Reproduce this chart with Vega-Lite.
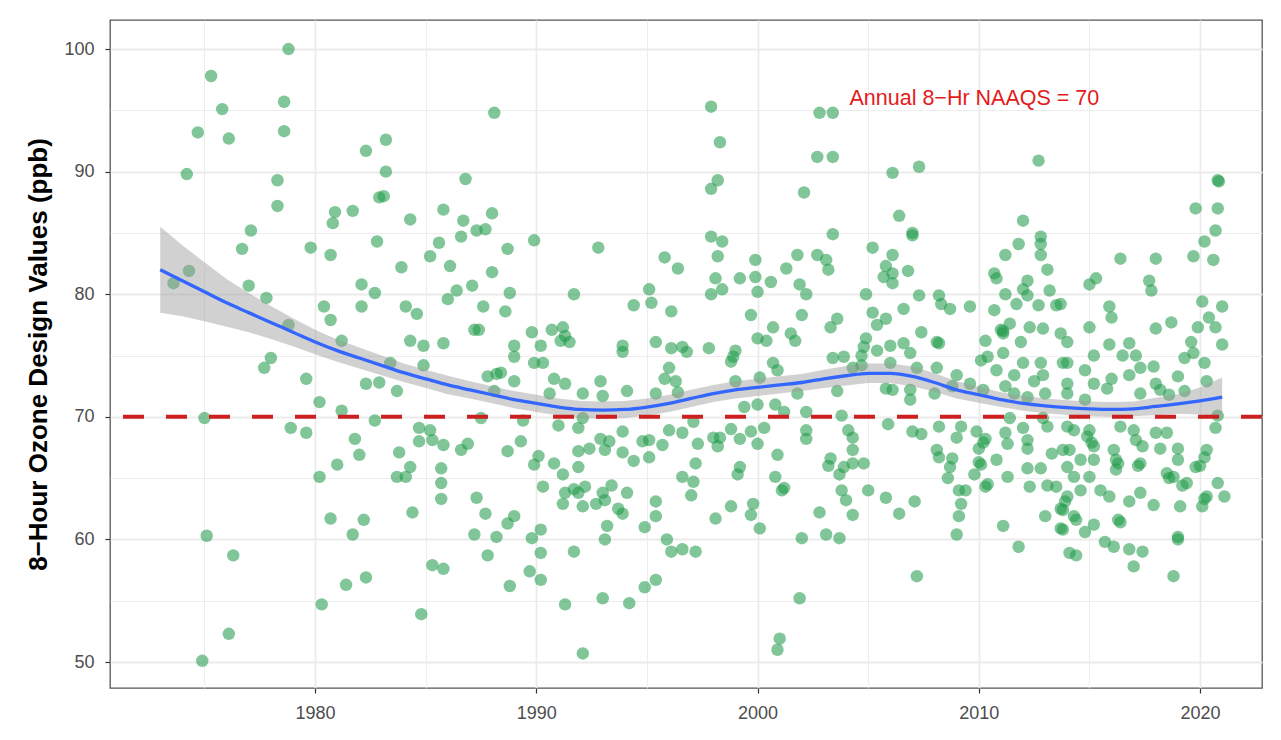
{
  "$schema": "https://vega.github.io/schema/vega-lite/v6.json",
  "autosize": {"type": "none"},
  "width": 1152,
  "height": 668,
  "padding": {"left": 110, "top": 20, "right": 19, "bottom": 52},
  "background": "white",
  "config": {
    "font": "Liberation Sans",
    "view": {"stroke": "#555555", "strokeWidth": 1.3}
  },
  "datasets": {
    "pts": [
      {"year":1978.8,"ppb":100.0},{"year":1975.3,"ppb":97.8},{"year":1975.8,"ppb":95.1},{"year":1974.7,"ppb":93.2},{"year":1976.1,"ppb":92.7},{"year":1978.6,"ppb":95.7},{"year":1978.6,"ppb":93.3},{"year":1974.2,"ppb":89.8},{"year":1978.3,"ppb":89.3},{"year":1978.3,"ppb":87.2},{"year":1977.1,"ppb":85.2},{"year":1976.7,"ppb":83.7},{"year":1974.3,"ppb":81.9},{"year":1973.6,"ppb":80.9},{"year":1977.0,"ppb":80.7},{"year":1977.8,"ppb":79.7},{"year":1978.8,"ppb":77.5},{"year":1979.8,"ppb":83.8},
      {"year":1978.0,"ppb":74.8},{"year":1977.7,"ppb":74.0},{"year":1979.6,"ppb":73.1},{"year":1975.0,"ppb":69.9},{"year":1978.9,"ppb":69.1},{"year":1979.6,"ppb":68.7},{"year":1975.1,"ppb":60.3},{"year":1976.3,"ppb":58.7},{"year":1976.1,"ppb":52.3},{"year":1974.9,"ppb":50.1},
      {"year":1988.1,"ppb":94.8},{"year":1983.2,"ppb":92.6},{"year":1982.3,"ppb":91.7},{"year":1983.2,"ppb":90.0},{"year":1986.8,"ppb":89.4},{"year":1982.9,"ppb":87.9},{"year":1983.1,"ppb":88.0},{"year":1980.9,"ppb":86.7},{"year":1981.7,"ppb":86.8},{"year":1980.8,"ppb":85.8},{"year":1984.3,"ppb":86.1},{"year":1985.8,"ppb":86.9},{"year":1986.7,"ppb":86.0},{"year":1987.3,"ppb":85.2},{"year":1987.7,"ppb":85.3},{"year":1988.0,"ppb":86.6},{"year":1980.7,"ppb":83.2},{"year":1982.8,"ppb":84.3},{"year":1985.6,"ppb":84.2},{"year":1986.6,"ppb":84.7},{"year":1985.2,"ppb":83.1},{"year":1986.1,"ppb":82.3},{"year":1983.9,"ppb":82.2},{"year":1988.0,"ppb":81.8},{"year":1982.1,"ppb":80.8},{"year":1982.7,"ppb":80.1},{"year":1980.4,"ppb":79.0},{"year":1980.7,"ppb":77.9},{"year":1982.1,"ppb":79.0},{"year":1984.1,"ppb":79.0},{"year":1984.6,"ppb":78.4},{"year":1986.0,"ppb":79.6},{"year":1986.4,"ppb":80.3},{"year":1987.1,"ppb":80.7},{"year":1987.6,"ppb":79.0},{"year":1987.2,"ppb":77.1},{"year":1987.4,"ppb":77.1},{"year":1981.2,"ppb":76.2},{"year":1984.3,"ppb":76.2},{"year":1984.9,"ppb":75.8},{"year":1985.8,"ppb":76.0},
      {"year":1983.4,"ppb":74.4},{"year":1984.9,"ppb":74.2},{"year":1982.3,"ppb":72.7},{"year":1982.9,"ppb":72.8},{"year":1983.7,"ppb":72.1},{"year":1980.2,"ppb":71.2},{"year":1981.2,"ppb":70.5},{"year":1982.7,"ppb":69.7},{"year":1987.8,"ppb":73.3},{"year":1988.2,"ppb":73.5},{"year":1988.1,"ppb":72.1},{"year":1987.5,"ppb":69.9},{"year":1981.8,"ppb":68.2},{"year":1982.0,"ppb":66.9},{"year":1981.0,"ppb":66.1},{"year":1980.2,"ppb":65.1},{"year":1983.8,"ppb":67.1},{"year":1984.3,"ppb":65.9},{"year":1983.7,"ppb":65.1},{"year":1984.1,"ppb":65.1},{"year":1984.7,"ppb":69.1},{"year":1985.2,"ppb":68.9},{"year":1984.7,"ppb":68.0},{"year":1985.3,"ppb":68.1},{"year":1985.8,"ppb":67.7},{"year":1986.6,"ppb":67.3},{"year":1986.9,"ppb":67.8},{"year":1985.7,"ppb":65.8},{"year":1985.7,"ppb":64.6},{"year":1985.7,"ppb":63.3},{"year":1980.7,"ppb":61.7},{"year":1982.2,"ppb":61.6},{"year":1981.7,"ppb":60.4},{"year":1984.4,"ppb":62.2},{"year":1987.3,"ppb":63.4},{"year":1987.7,"ppb":62.1},{"year":1987.2,"ppb":60.4},{"year":1988.2,"ppb":60.2},{"year":1987.8,"ppb":58.7},{"year":1985.3,"ppb":57.9},{"year":1985.8,"ppb":57.6},{"year":1981.4,"ppb":56.3},{"year":1982.3,"ppb":56.9},{"year":1980.3,"ppb":54.7},{"year":1984.8,"ppb":53.9},
      {"year":1989.9,"ppb":84.4},{"year":1992.8,"ppb":83.8},{"year":1988.7,"ppb":83.7},{"year":1988.8,"ppb":80.1},{"year":1988.6,"ppb":78.6},{"year":1991.7,"ppb":80.0},{"year":1995.8,"ppb":83.0},{"year":1996.4,"ppb":82.1},{"year":1995.1,"ppb":80.4},{"year":1995.2,"ppb":79.3},{"year":1994.4,"ppb":79.1},{"year":1996.1,"ppb":78.6},{"year":1989.8,"ppb":76.9},{"year":1990.7,"ppb":77.1},{"year":1991.2,"ppb":77.3},{"year":1991.3,"ppb":76.6},{"year":1991.1,"ppb":76.2},{"year":1991.5,"ppb":76.1},{"year":1989.0,"ppb":75.8},{"year":1990.2,"ppb":75.8},{"year":1993.9,"ppb":75.8},{"year":1995.4,"ppb":76.1},{"year":1996.1,"ppb":75.6},{"year":1996.6,"ppb":75.7},
      {"year":1989.0,"ppb":74.9},{"year":1989.9,"ppb":74.4},{"year":1990.3,"ppb":74.4},{"year":1988.4,"ppb":73.6},{"year":1989.0,"ppb":72.9},{"year":1990.8,"ppb":73.1},{"year":1991.3,"ppb":72.7},{"year":1990.6,"ppb":71.9},{"year":1992.1,"ppb":71.9},{"year":1992.9,"ppb":72.9},{"year":1993.0,"ppb":71.7},{"year":1994.1,"ppb":72.1},{"year":1995.4,"ppb":71.9},{"year":1996.0,"ppb":74.0},{"year":1995.8,"ppb":73.1},{"year":1996.3,"ppb":72.9},{"year":1996.4,"ppb":72.0},{"year":1993.9,"ppb":75.3},{"year":1989.4,"ppb":69.7},{"year":1991.0,"ppb":69.3},{"year":1991.9,"ppb":69.1},{"year":1992.1,"ppb":69.9},{"year":1989.3,"ppb":68.0},{"year":1988.7,"ppb":67.2},{"year":1990.1,"ppb":66.8},{"year":1989.9,"ppb":66.1},{"year":1992.9,"ppb":68.2},{"year":1993.3,"ppb":68.0},{"year":1993.9,"ppb":68.8},{"year":1994.8,"ppb":68.0},{"year":1995.1,"ppb":68.1},{"year":1995.7,"ppb":67.7},{"year":1996.0,"ppb":68.9},{"year":1996.6,"ppb":68.7},{"year":1991.9,"ppb":67.2},{"year":1992.4,"ppb":67.4},{"year":1993.1,"ppb":67.3},{"year":1993.9,"ppb":67.1},{"year":1994.4,"ppb":66.4},{"year":1995.1,"ppb":66.7},{"year":1990.8,"ppb":66.2},{"year":1991.2,"ppb":65.3},{"year":1991.9,"ppb":65.9},{"year":1990.3,"ppb":64.3},{"year":1991.3,"ppb":63.8},{"year":1991.7,"ppb":64.1},{"year":1992.2,"ppb":64.3},{"year":1991.9,"ppb":63.8},{"year":1991.2,"ppb":62.9},{"year":1992.1,"ppb":62.7},{"year":1992.7,"ppb":62.9},{"year":1993.0,"ppb":63.8},{"year":1993.4,"ppb":64.4},{"year":1993.1,"ppb":63.2},{"year":1994.1,"ppb":63.8},{"year":1993.7,"ppb":62.5},{"year":1993.9,"ppb":62.1},{"year":1993.2,"ppb":61.1},{"year":1993.1,"ppb":60.0},{"year":1995.4,"ppb":63.1},{"year":1995.4,"ppb":61.9},{"year":1994.9,"ppb":61.0},{"year":1989.0,"ppb":61.9},{"year":1988.7,"ppb":61.3},{"year":1990.2,"ppb":60.8},{"year":1989.8,"ppb":60.1},{"year":1990.2,"ppb":58.9},{"year":1991.7,"ppb":59.0},{"year":1995.9,"ppb":60.0},{"year":1996.1,"ppb":59.0},{"year":1996.6,"ppb":59.2},{"year":1989.7,"ppb":57.4},{"year":1990.2,"ppb":56.7},{"year":1988.8,"ppb":56.2},{"year":1994.9,"ppb":56.1},{"year":1995.4,"ppb":56.7},{"year":1991.3,"ppb":54.7},{"year":1993.0,"ppb":55.2},{"year":1994.2,"ppb":54.8},{"year":1992.1,"ppb":50.7},
      {"year":1997.9,"ppb":95.3},{"year":1998.3,"ppb":92.4},{"year":2002.8,"ppb":94.8},{"year":2003.4,"ppb":94.8},{"year":2002.7,"ppb":91.2},{"year":2003.4,"ppb":91.2},{"year":1998.2,"ppb":89.3},{"year":1997.9,"ppb":88.6},{"year":2002.1,"ppb":88.3},{"year":1997.9,"ppb":84.7},{"year":1998.4,"ppb":84.3},{"year":1998.2,"ppb":83.1},{"year":2003.4,"ppb":84.9},{"year":1999.9,"ppb":82.8},{"year":2001.3,"ppb":82.1},{"year":2001.8,"ppb":83.2},{"year":2002.7,"ppb":83.2},{"year":2003.1,"ppb":82.8},{"year":2003.2,"ppb":82.0},{"year":2005.2,"ppb":83.8},{"year":1998.1,"ppb":81.3},{"year":1997.9,"ppb":80.0},{"year":1998.4,"ppb":80.4},{"year":1999.2,"ppb":81.3},{"year":1999.9,"ppb":81.4},{"year":2000.0,"ppb":80.2},{"year":2000.6,"ppb":81.0},{"year":2001.9,"ppb":80.8},{"year":2002.2,"ppb":80.0},{"year":2004.9,"ppb":80.0},{"year":1999.7,"ppb":78.3},{"year":2002.0,"ppb":78.3},{"year":2003.6,"ppb":78.0},{"year":2003.3,"ppb":77.3},{"year":2000.0,"ppb":76.4},{"year":2000.4,"ppb":76.2},{"year":2000.7,"ppb":77.3},{"year":2001.5,"ppb":76.8},{"year":2001.7,"ppb":76.2},{"year":1997.8,"ppb":75.6},{"year":1999.0,"ppb":75.4},{"year":2005.2,"ppb":78.5},{"year":2005.4,"ppb":77.5},{"year":2004.9,"ppb":76.4},{"year":2004.8,"ppb":75.7},
      {"year":1996.8,"ppb":75.3},{"year":1998.9,"ppb":74.9},{"year":1998.8,"ppb":74.5},{"year":2000.7,"ppb":74.4},{"year":2000.9,"ppb":73.8},{"year":1999.0,"ppb":72.9},{"year":2000.1,"ppb":73.2},{"year":2001.8,"ppb":71.9},{"year":2003.6,"ppb":72.1},{"year":2003.4,"ppb":74.8},{"year":2003.9,"ppb":74.9},{"year":2004.7,"ppb":75.0},{"year":2004.7,"ppb":74.2},{"year":2004.3,"ppb":74.0},{"year":1997.1,"ppb":69.6},{"year":1998.8,"ppb":69.0},{"year":1998.3,"ppb":68.3},{"year":1998.0,"ppb":68.3},{"year":1998.2,"ppb":67.6},{"year":1999.2,"ppb":68.2},{"year":1999.7,"ppb":68.8},{"year":2000.0,"ppb":67.8},{"year":2000.3,"ppb":69.1},{"year":1999.4,"ppb":70.8},{"year":2000.0,"ppb":71.0},{"year":2000.8,"ppb":71.0},{"year":2001.2,"ppb":70.4},{"year":2002.2,"ppb":70.4},{"year":2003.8,"ppb":70.1},{"year":1997.3,"ppb":67.8},{"year":1997.2,"ppb":66.2},{"year":2002.2,"ppb":68.9},{"year":2002.2,"ppb":68.2},{"year":2004.1,"ppb":68.9},{"year":2004.3,"ppb":68.3},{"year":2000.9,"ppb":66.9},{"year":1999.2,"ppb":65.9},{"year":1999.1,"ppb":65.3},{"year":1996.6,"ppb":65.1},{"year":1997.1,"ppb":64.7},{"year":1997.0,"ppb":63.6},{"year":2000.8,"ppb":65.1},{"year":2001.2,"ppb":64.2},{"year":2001.1,"ppb":64.0},{"year":2003.3,"ppb":66.6},{"year":2003.2,"ppb":66.0},{"year":2003.9,"ppb":65.9},{"year":2004.3,"ppb":66.2},{"year":2004.8,"ppb":66.2},{"year":2004.3,"ppb":67.3},{"year":2003.7,"ppb":65.3},{"year":2003.8,"ppb":64.0},{"year":2004.0,"ppb":63.2},{"year":2005.0,"ppb":64.0},{"year":1998.8,"ppb":62.7},{"year":1998.1,"ppb":61.7},{"year":1999.8,"ppb":62.9},{"year":1999.7,"ppb":62.0},{"year":2000.1,"ppb":60.9},{"year":2002.8,"ppb":62.2},{"year":2004.3,"ppb":62.0},{"year":2003.1,"ppb":60.4},{"year":2003.7,"ppb":60.1},{"year":2002.0,"ppb":60.1},{"year":1997.2,"ppb":59.0},{"year":2001.9,"ppb":55.2},{"year":2001.0,"ppb":51.9},{"year":2000.9,"ppb":51.0},
      {"year":2012.7,"ppb":90.9},{"year":2006.1,"ppb":89.9},{"year":2007.3,"ppb":90.4},{"year":2006.4,"ppb":86.4},{"year":2007.0,"ppb":85.0},{"year":2007.0,"ppb":84.8},{"year":2012.0,"ppb":86.0},{"year":2011.8,"ppb":84.1},{"year":2012.8,"ppb":84.7},{"year":2012.8,"ppb":84.1},{"year":2012.8,"ppb":83.2},{"year":2011.2,"ppb":83.2},{"year":2006.1,"ppb":83.2},{"year":2005.8,"ppb":82.3},{"year":2006.8,"ppb":81.9},{"year":2006.1,"ppb":81.7},{"year":2006.1,"ppb":80.9},{"year":2005.7,"ppb":81.4},{"year":2007.3,"ppb":79.9},{"year":2008.2,"ppb":79.9},{"year":2008.7,"ppb":78.8},{"year":2008.3,"ppb":79.2},{"year":2009.6,"ppb":79.0},{"year":2006.6,"ppb":78.8},{"year":2005.8,"ppb":78.0},{"year":2007.4,"ppb":76.9},{"year":2008.1,"ppb":76.1},{"year":2008.2,"ppb":76.0},{"year":2006.6,"ppb":76.0},{"year":2006.0,"ppb":75.8},{"year":2010.7,"ppb":81.7},{"year":2010.8,"ppb":81.3},{"year":2011.2,"ppb":80.0},{"year":2012.2,"ppb":81.1},{"year":2012.0,"ppb":80.4},{"year":2012.2,"ppb":79.9},{"year":2011.7,"ppb":79.2},{"year":2012.7,"ppb":79.1},{"year":2013.2,"ppb":80.3},{"year":2013.1,"ppb":82.0},{"year":2013.5,"ppb":79.1},{"year":2010.7,"ppb":78.7},{"year":2010.3,"ppb":76.2},{"year":2011.0,"ppb":77.1},{"year":2011.1,"ppb":76.8},{"year":2011.1,"ppb":77.0},{"year":2011.4,"ppb":77.6},{"year":2012.3,"ppb":77.3},{"year":2012.9,"ppb":77.2},{"year":2011.9,"ppb":76.1},{"year":2013.7,"ppb":76.8},{"year":2014.0,"ppb":76.1},
      {"year":2005.4,"ppb":75.4},{"year":2006.0,"ppb":74.4},{"year":2006.9,"ppb":75.2},{"year":2007.2,"ppb":74.0},{"year":2008.1,"ppb":74.0},{"year":2009.0,"ppb":73.4},{"year":2010.1,"ppb":74.6},{"year":2010.4,"ppb":74.9},{"year":2010.8,"ppb":73.8},{"year":2011.1,"ppb":75.2},{"year":2011.6,"ppb":73.4},{"year":2012.0,"ppb":74.4},{"year":2012.8,"ppb":74.4},{"year":2012.9,"ppb":73.4},{"year":2012.5,"ppb":72.9},{"year":2013.0,"ppb":71.9},{"year":2013.8,"ppb":74.4},{"year":2014.0,"ppb":72.7},{"year":2005.8,"ppb":72.3},{"year":2006.1,"ppb":72.2},{"year":2006.9,"ppb":72.2},{"year":2006.9,"ppb":71.4},{"year":2008.0,"ppb":71.9},{"year":2008.8,"ppb":72.5},{"year":2009.6,"ppb":72.7},{"year":2010.2,"ppb":72.2},{"year":2011.2,"ppb":72.5},{"year":2011.6,"ppb":71.9},{"year":2012.2,"ppb":71.6},
      {"year":2005.9,"ppb":69.4},{"year":2007.0,"ppb":68.8},{"year":2007.4,"ppb":68.6},{"year":2008.2,"ppb":69.2},{"year":2009.2,"ppb":69.2},{"year":2009.0,"ppb":68.3},{"year":2008.1,"ppb":67.3},{"year":2008.2,"ppb":66.7},{"year":2008.8,"ppb":66.6},{"year":2008.7,"ppb":65.9},{"year":2009.9,"ppb":68.8},{"year":2010.3,"ppb":68.2},{"year":2010.2,"ppb":67.9},{"year":2010.0,"ppb":67.4},{"year":2010.1,"ppb":66.1},{"year":2010.0,"ppb":66.3},{"year":2010.8,"ppb":66.5},{"year":2011.3,"ppb":67.8},{"year":2011.2,"ppb":68.7},{"year":2012.0,"ppb":69.1},{"year":2012.2,"ppb":68.1},{"year":2012.2,"ppb":67.4},{"year":2013.1,"ppb":69.2},{"year":2013.3,"ppb":67.0},{"year":2013.8,"ppb":67.3},{"year":2011.4,"ppb":69.9},{"year":2012.9,"ppb":69.9},{"year":2005.8,"ppb":63.4},{"year":2007.1,"ppb":63.1},{"year":2006.4,"ppb":62.1},
      {"year":2008.6,"ppb":65.0},{"year":2009.1,"ppb":64.0},{"year":2009.4,"ppb":64.0},{"year":2009.2,"ppb":62.9},{"year":2009.1,"ppb":61.9},{"year":2009.0,"ppb":60.4},{"year":2009.8,"ppb":65.3},{"year":2010.3,"ppb":64.3},{"year":2010.4,"ppb":64.5},{"year":2011.3,"ppb":65.1},{"year":2011.1,"ppb":61.1},{"year":2011.8,"ppb":59.4},{"year":2012.2,"ppb":65.8},{"year":2012.8,"ppb":65.8},{"year":2012.3,"ppb":64.3},{"year":2013.1,"ppb":64.4},{"year":2013.5,"ppb":64.3},{"year":2013.0,"ppb":61.9},{"year":2013.7,"ppb":62.5},{"year":2013.7,"ppb":60.9},{"year":2013.9,"ppb":63.1},{"year":2014.1,"ppb":58.9},{"year":2007.2,"ppb":57.0},
      {"year":2020.8,"ppb":89.3},{"year":2020.85,"ppb":89.2},{"year":2019.8,"ppb":87.0},{"year":2020.8,"ppb":87.0},{"year":2020.7,"ppb":85.2},{"year":2020.2,"ppb":84.3},{"year":2016.4,"ppb":82.9},{"year":2018.0,"ppb":82.9},{"year":2019.7,"ppb":83.1},{"year":2020.6,"ppb":82.8},{"year":2015.0,"ppb":80.8},{"year":2015.3,"ppb":81.3},{"year":2017.7,"ppb":81.1},{"year":2017.8,"ppb":80.3},{"year":2013.7,"ppb":79.2},{"year":2015.9,"ppb":79.0},{"year":2016.0,"ppb":78.1},{"year":2020.1,"ppb":79.4},{"year":2021.0,"ppb":79.0},{"year":2020.4,"ppb":78.1},{"year":2019.9,"ppb":77.3},{"year":2020.7,"ppb":77.3},{"year":2018.0,"ppb":77.2},{"year":2018.7,"ppb":77.7},{"year":2015.0,"ppb":77.3},{"year":2015.9,"ppb":75.9},{"year":2016.8,"ppb":76.0},{"year":2019.6,"ppb":76.1},{"year":2021.0,"ppb":75.9},
      {"year":2015.2,"ppb":75.0},{"year":2016.5,"ppb":75.0},{"year":2017.1,"ppb":75.0},{"year":2014.0,"ppb":74.4},{"year":2014.8,"ppb":73.8},{"year":2015.2,"ppb":72.7},{"year":2015.8,"ppb":72.3},{"year":2016.0,"ppb":73.1},{"year":2016.8,"ppb":73.4},{"year":2017.3,"ppb":74.0},{"year":2017.9,"ppb":74.1},{"year":2019.0,"ppb":73.3},{"year":2019.3,"ppb":74.8},{"year":2019.7,"ppb":75.2},{"year":2020.2,"ppb":74.4},{"year":2020.3,"ppb":72.9},{"year":2014.0,"ppb":71.9},{"year":2014.8,"ppb":71.4},{"year":2017.3,"ppb":71.9},{"year":2018.0,"ppb":72.7},{"year":2018.2,"ppb":72.2},{"year":2018.6,"ppb":71.8},{"year":2019.3,"ppb":72.1},
      {"year":2014.0,"ppb":69.2},{"year":2015.0,"ppb":68.9},{"year":2014.9,"ppb":68.4},{"year":2015.2,"ppb":67.6},{"year":2015.1,"ppb":67.9},{"year":2014.1,"ppb":67.3},{"year":2014.3,"ppb":68.9},{"year":2014.6,"ppb":66.5},{"year":2014.0,"ppb":65.9},{"year":2015.2,"ppb":66.5},{"year":2014.3,"ppb":65.1},{"year":2015.0,"ppb":65.1},{"year":2016.1,"ppb":67.3},{"year":2016.2,"ppb":66.5},{"year":2016.3,"ppb":66.2},{"year":2016.2,"ppb":65.7},{"year":2016.4,"ppb":69.2},{"year":2017.0,"ppb":68.9},{"year":2017.1,"ppb":68.1},{"year":2017.4,"ppb":67.6},{"year":2017.3,"ppb":66.2},{"year":2017.2,"ppb":66.0},{"year":2018.0,"ppb":68.7},{"year":2018.2,"ppb":67.4},{"year":2018.5,"ppb":68.7},{"year":2019.0,"ppb":67.4},{"year":2019.0,"ppb":66.5},{"year":2018.5,"ppb":65.4},{"year":2018.8,"ppb":65.1},{"year":2018.6,"ppb":65.0},{"year":2019.4,"ppb":64.6},{"year":2019.2,"ppb":64.4},{"year":2019.8,"ppb":65.9},{"year":2020.0,"ppb":66.0},{"year":2020.2,"ppb":66.7},{"year":2020.3,"ppb":67.3},{"year":2020.8,"ppb":64.6},{"year":2020.3,"ppb":63.5},{"year":2020.2,"ppb":63.3},{"year":2020.1,"ppb":62.7},{"year":2021.1,"ppb":63.5},{"year":2019.1,"ppb":62.7},{"year":2017.9,"ppb":62.8},{"year":2017.3,"ppb":63.8},{"year":2016.8,"ppb":63.1},{"year":2015.9,"ppb":63.5},{"year":2015.5,"ppb":64.0},{"year":2014.6,"ppb":64.0},{"year":2014.0,"ppb":63.5},{"year":2013.8,"ppb":62.4},{"year":2020.8,"ppb":70.1},{"year":2020.7,"ppb":69.1},
      {"year":2014.3,"ppb":61.9},{"year":2014.4,"ppb":61.6},{"year":2013.8,"ppb":60.8},{"year":2015.2,"ppb":61.2},{"year":2014.8,"ppb":60.6},{"year":2016.3,"ppb":61.6},{"year":2016.4,"ppb":61.4},{"year":2015.7,"ppb":59.8},{"year":2016.1,"ppb":59.4},{"year":2016.8,"ppb":59.2},{"year":2017.4,"ppb":59.0},{"year":2017.0,"ppb":57.8},{"year":2019.0,"ppb":60.0},{"year":2019.0,"ppb":60.2},{"year":2018.8,"ppb":57.0},{"year":2014.4,"ppb":58.7}
    ],
    "fit": [
      {"year":1973,"fit":82.0,"lo":78.5,"hi":85.5},{"year":1974,"fit":81.1,"lo":78.2,"hi":84.0},{"year":1975,"fit":80.2,"lo":77.8,"hi":82.6},{"year":1976,"fit":79.3,"lo":77.35,"hi":81.25},{"year":1977,"fit":78.5,"lo":76.9,"hi":80.1},{"year":1978,"fit":77.7,"lo":76.35,"hi":79.05},{"year":1979,"fit":76.9,"lo":75.75,"hi":78.05},{"year":1980,"fit":76.1,"lo":75.1,"hi":77.1},{"year":1981,"fit":75.4,"lo":74.5,"hi":76.3},{"year":1982,"fit":74.8,"lo":73.95,"hi":75.65},{"year":1983,"fit":74.2,"lo":73.4,"hi":75.0},{"year":1984,"fit":73.6,"lo":72.85,"hi":74.35},{"year":1985,"fit":73.1,"lo":72.35,"hi":73.85},{"year":1986,"fit":72.6,"lo":71.85,"hi":73.35},{"year":1987,"fit":72.2,"lo":71.5,"hi":72.9},{"year":1988,"fit":71.8,"lo":71.1,"hi":72.5},{"year":1989,"fit":71.4,"lo":70.7,"hi":72.1},{"year":1990,"fit":71.1,"lo":70.4,"hi":71.8},{"year":1991,"fit":70.8,"lo":70.1,"hi":71.5},{"year":1992,"fit":70.6,"lo":69.9,"hi":71.3},{"year":1993,"fit":70.55,"lo":69.85,"hi":71.25},{"year":1994,"fit":70.6,"lo":69.9,"hi":71.3},{"year":1995,"fit":70.8,"lo":70.1,"hi":71.5},{"year":1996,"fit":71.1,"lo":70.4,"hi":71.8},{"year":1997,"fit":71.5,"lo":70.8,"hi":72.2},{"year":1998,"fit":71.9,"lo":71.2,"hi":72.6},{"year":1999,"fit":72.2,"lo":71.5,"hi":72.9},{"year":2000,"fit":72.4,"lo":71.7,"hi":73.1},{"year":2001,"fit":72.6,"lo":71.9,"hi":73.3},{"year":2002,"fit":72.8,"lo":72.1,"hi":73.5},{"year":2003,"fit":73.1,"lo":72.35,"hi":73.85},{"year":2004,"fit":73.35,"lo":72.55,"hi":74.15},{"year":2005,"fit":73.55,"lo":72.75,"hi":74.35},{"year":2006,"fit":73.55,"lo":72.75,"hi":74.35},{"year":2007,"fit":73.3,"lo":72.5,"hi":74.1},{"year":2008,"fit":72.8,"lo":72.05,"hi":73.55},{"year":2009,"fit":72.2,"lo":71.5,"hi":72.9},{"year":2010,"fit":71.8,"lo":71.15,"hi":72.45},{"year":2011,"fit":71.4,"lo":70.8,"hi":72.0},{"year":2012,"fit":71.1,"lo":70.5,"hi":71.7},{"year":2013,"fit":70.9,"lo":70.3,"hi":71.5},{"year":2014,"fit":70.75,"lo":70.15,"hi":71.35},{"year":2015,"fit":70.65,"lo":70.05,"hi":71.25},{"year":2016,"fit":70.6,"lo":70.0,"hi":71.2},{"year":2017,"fit":70.65,"lo":70.05,"hi":71.25},{"year":2018,"fit":70.85,"lo":70.15,"hi":71.55},{"year":2019,"fit":71.05,"lo":70.25,"hi":71.85},{"year":2020,"fit":71.3,"lo":70.2,"hi":72.4},{"year":2021,"fit":71.6,"lo":70.0,"hi":73.2}
    ]
  },
  "layer": [
    {
      "data": {"name": "pts"},
      "mark": {"type": "circle", "size": 155, "color": "#1f9a48", "opacity": 0.56, "strokeWidth": 0},
      "encoding": {
        "x": {
          "field": "year", "type": "quantitative", "title": null,
          "scale": {"domain": [1970.73, 2022.8], "nice": false, "zero": false},
          "axis": {
            "title": null,
            "values": [1975, 1980, 1985, 1990, 1995, 2000, 2005, 2010, 2015, 2020],
            "format": "d",
            "labelExpr": "datum.value % 10 === 0 ? datum.label : ''",
            "labelOverlap": false,
            "labelFlush": false,
            "labelFontSize": 18,
            "labelColor": "#4d4d4d",
            "labelPadding": 11,
            "domain": false,
            "tickColor": "#333333",
            "tickSize": 5,
            "tickWidth": 1.2,
            "tickOpacity": {"condition": {"test": "datum.value % 10 === 0", "value": 1}, "value": 0},
            "gridColor": "#ebebeb",
            "gridWidth": {"condition": {"test": "datum.value % 10 === 0", "value": 1.8}, "value": 0.9}
          }
        },
        "y": {
          "field": "ppb", "type": "quantitative", "title": "8−Hour Ozone Design Values (ppb)",
          "scale": {"domain": [47.88, 102.37], "nice": false, "zero": false},
          "axis": {
            "title": "8−Hour Ozone Design Values (ppb)",
            "titleFontSize": 26,
            "titleFontWeight": "bold",
            "titleColor": "#000000",
            "titlePadding": 12,
            "values": [50, 55, 60, 65, 70, 75, 80, 85, 90, 95, 100],
            "labelExpr": "datum.value % 10 === 0 ? datum.label : ''",
            "labelOverlap": false,
            "labelFlush": false,
            "labelFontSize": 18,
            "labelColor": "#4d4d4d",
            "labelPadding": 11,
            "domain": false,
            "tickColor": "#333333",
            "tickSize": 5,
            "tickWidth": 1.2,
            "tickOpacity": {"condition": {"test": "datum.value % 10 === 0", "value": 1}, "value": 0},
            "gridColor": "#ebebeb",
            "gridWidth": {"condition": {"test": "datum.value % 10 === 0", "value": 1.8}, "value": 0.9}
          }
        }
      }
    },
    {
      "data": {"name": "fit"},
      "mark": {"type": "area", "color": "#999999", "opacity": 0.45},
      "encoding": {
        "x": {"field": "year", "type": "quantitative", "title": null},
        "y": {"field": "lo", "type": "quantitative", "title": "8−Hour Ozone Design Values (ppb)"},
        "y2": {"field": "hi"}
      }
    },
    {
      "data": {"name": "fit"},
      "mark": {"type": "line", "color": "#3366FF", "strokeWidth": 3.3, "interpolate": "monotone"},
      "encoding": {
        "x": {"field": "year", "type": "quantitative", "title": null},
        "y": {"field": "fit", "type": "quantitative", "title": "8−Hour Ozone Design Values (ppb)"}
      }
    },
    {
      "data": {"values": [{"level": 70}]},
      "mark": {"type": "rule", "color": "#cc1f1f", "strokeWidth": 4, "strokeDash": [21, 22]},
      "encoding": {
        "y": {"field": "level", "type": "quantitative", "title": "8−Hour Ozone Design Values (ppb)"}
      }
    },
    {
      "data": {"values": [{"label": "Annual 8−Hr NAAQS = 70", "year": 2009.8, "ppb": 95.9}]},
      "mark": {"type": "text", "color": "#e41a1c", "fontSize": 21.5, "align": "center", "baseline": "middle"},
      "encoding": {
        "x": {"field": "year", "type": "quantitative", "title": null},
        "y": {"field": "ppb", "type": "quantitative", "title": "8−Hour Ozone Design Values (ppb)"},
        "text": {"field": "label"}
      }
    }
  ]
}
